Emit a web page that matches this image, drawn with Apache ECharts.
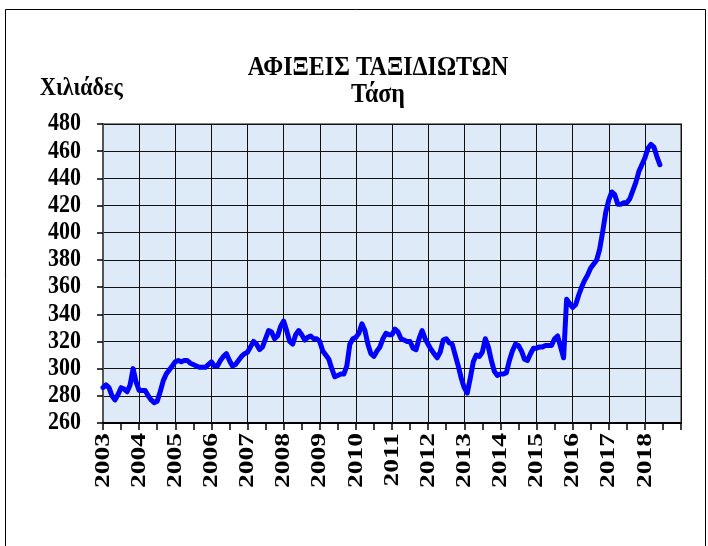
<!DOCTYPE html>
<html>
<head>
<meta charset="utf-8">
<script src="https://cdn.jsdelivr.net/npm/echarts@6/dist/echarts.min.js"></script>
<style>
  html, body { margin: 0; padding: 0; background: #ffffff; }
  #chart { width: 708px; height: 546px; }
</style>
</head>
<body>
<div id="chart"></div>
<script>
// ---- data ----
const titleText = 'ΑΦΙΞΕΙΣ ΤΑΞΙΔΙΩΤΩΝ';
const subtitleText = 'Τάση';
const unitText = 'Χιλιάδες';
const startYear = 2003;
const yearTicks = [2003, 2004, 2005, 2006, 2007, 2008, 2009, 2010, 2011, 2012, 2013, 2014, 2015, 2016, 2017, 2018];
const yTicks = [260, 280, 300, 320, 340, 360, 380, 400, 420, 440, 460, 480];
// monthly trend values (thousands), Jan 2003 – Jun 2018
const trend2003 = [286, 288, 286, 280, 277, 281, 286, 285, 283, 288, 300, 290];
const trend2004 = [284, 284, 284, 280, 277, 275, 276, 283, 291, 296, 299, 302];
const trend2005 = [305, 306, 305, 306, 306, 304, 303, 302, 301, 301, 301, 303];
const trend2006 = [305, 302, 302, 306, 309, 311, 306, 302, 303, 306, 309, 311];
const trend2007 = [312, 316, 320, 318, 314, 316, 322, 328, 327, 322, 324, 331];
const trend2008 = [335, 328, 320, 318, 325, 328, 325, 321, 323, 324, 322, 322];
const trend2009 = [320, 313, 310, 307, 300, 294, 295, 296, 296, 302, 318, 322];
const trend2010 = [323, 326, 333, 328, 318, 311, 309, 313, 316, 322, 326, 325];
const trend2011 = [325, 329, 327, 322, 321, 320, 320, 315, 314, 322, 328, 322];
const trend2012 = [318, 314, 311, 308, 312, 321, 322, 319, 318, 310, 302, 293];
const trend2013 = [286, 282, 293, 305, 310, 309, 312, 322, 316, 306, 298, 295];
const trend2014 = [296, 296, 297, 306, 313, 318, 317, 313, 307, 306, 311, 315];
const trend2015 = [315, 316, 316, 317, 317, 317, 322, 324, 316, 308, 351, 348];
const trend2016 = [345, 347, 354, 360, 365, 369, 374, 377, 380, 388, 401, 415];
const trend2017 = [424, 430, 428, 421, 421, 422, 422, 425, 431, 437, 445, 450];
const trend2018 = [455, 462, 465, 463, 456, 450];

const trend = [].concat(trend2003, trend2004, trend2005, trend2006, trend2007, trend2008,
  trend2009, trend2010, trend2011, trend2012, trend2013, trend2014, trend2015, trend2016,
  trend2017, trend2018);
const seriesData = trend.map((v, i) => [startYear + i / 12, v]);

const serif = '"Liberation Serif", "Times New Roman", serif';
const textStretch = 1.12;   // reference text is slightly stretched (tall)
const xLabelStretch = 1.25;

const chart = echarts.init(document.getElementById('chart'), null, { renderer: 'canvas' });
const baseGraphic = [
  { type: 'rect', left: 3, top: 7, shape: { width: 700, height: 560 }, style: { fill: 'none', stroke: '#000', lineWidth: 1 }, z: -1 },
  { type: 'text', x: 378, y: 68, scaleY: textStretch, style: { text: titleText, font: 'bold 24px ' + serif, fill: '#000', textAlign: 'center', textVerticalAlign: 'middle' } },
  { type: 'text', x: 378, y: 95, scaleY: textStretch, style: { text: subtitleText, font: 'bold 24px ' + serif, fill: '#000', textAlign: 'center', textVerticalAlign: 'middle' } },
  { type: 'text', x: 40, y: 89, scaleY: textStretch, style: { text: unitText, font: 'bold 22px ' + serif, fill: '#000', textAlign: 'left', textVerticalAlign: 'middle' } }
];
chart.setOption({
  animation: false,
  backgroundColor: '#ffffff',
  graphic: baseGraphic,
  grid: {
    left: 103, top: 124, width: 578, height: 299,
    containLabel: false, outerBoundsMode: 'none',
    show: true, backgroundColor: '#dfeaf8', borderColor: '#858585', borderWidth: 2
  },
  xAxis: {
    type: 'value', min: yearTicks[0], max: yearTicks[yearTicks.length - 1] + 1, interval: 1,
    axisLine: { show: true, onZero: false, lineStyle: { color: '#000', width: 2 } },
    axisTick: { show: true, inside: false, length: 7, lineStyle: { color: '#000', width: 1.5 } },
    minorTick: { show: true, splitNumber: 2, length: 7, lineStyle: { color: '#000', width: 1.5 } },
    splitLine: { show: true, lineStyle: { color: '#111', width: 1 } },
    axisLabel: { show: false }
  },
  yAxis: {
    type: 'value', min: yTicks[0], max: yTicks[yTicks.length - 1], interval: 20,
    axisLine: { show: true, lineStyle: { color: '#555', width: 2 } },
    axisTick: { show: true, inside: false, length: 6, lineStyle: { color: '#000', width: 1.5 } },
    splitLine: { show: true, lineStyle: { color: '#111', width: 1 } },
    axisLabel: { show: false }
  },
  series: [{
    type: 'line', data: seriesData, showSymbol: false, smooth: false,
    lineStyle: { color: '#0000ff', width: 5, join: 'round', cap: 'round' }
  }]
});

// Axis tick labels, placed through the chart's own scales (stretched like the reference text)
const yLabelEls = yTicks.map(v => {
  const p = chart.convertToPixel({ gridIndex: 0 }, [yearTicks[0], v]);
  return { type: 'text', x: p[0] - 22, y: p[1], scaleY: textStretch,
    style: { text: String(v), font: 'bold 22px ' + serif, fill: '#000', textAlign: 'right', textVerticalAlign: 'middle' } };
});
const xLabelEls = yearTicks.map(yr => {
  const p = chart.convertToPixel({ gridIndex: 0 }, [yr, yTicks[0]]);
  return { type: 'text', x: p[0], y: p[1] + 10, rotation: Math.PI / 2, scaleX: xLabelStretch,
    style: { text: String(yr), font: 'bold 22px ' + serif, fill: '#000', textAlign: 'right', textVerticalAlign: 'middle' } };
});
chart.setOption({ graphic: baseGraphic.concat(yLabelEls, xLabelEls) });
</script>
</body>
</html>
